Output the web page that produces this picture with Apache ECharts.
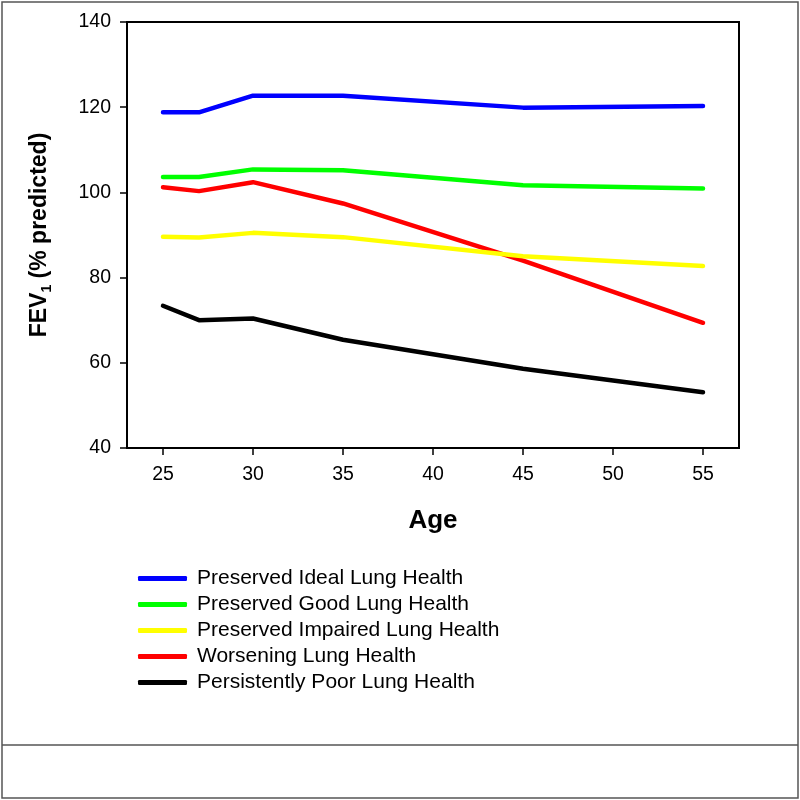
<!DOCTYPE html>
<html><head><meta charset="utf-8">
<script src="https://cdn.jsdelivr.net/npm/echarts@6/dist/echarts.min.js"></script>
<style>html,body{margin:0;padding:0;background:#fff}#c{width:800px;height:800px}</style>
</head><body><div id="c"></div>
<script>
const ages = [25, 27, 30, 35, 45, 55];
const xTicks = [25, 30, 35, 40, 45, 50, 55];
const seriesNames = ['Preserved Ideal Lung Health','Preserved Good Lung Health','Preserved Impaired Lung Health','Worsening Lung Health','Persistently Poor Lung Health'];
const idealVals = [118.8, 118.8, 122.7, 122.7, 119.9, 120.3];
const goodVals = [103.6, 103.6, 105.4, 105.2, 101.7, 100.9];
const impairedVals = [89.6, 89.4, 90.5, 89.5, 85.0, 82.7];
const worseningVals = [101.2, 100.3, 102.4, 97.4, 84.0, 69.4];
const poorVals = [73.4, 70.0, 70.4, 65.4, 58.6, 53.1];
const colors = ['#0000ff','#00ff00','#ffff00','#ff0000','#000000'];
const allVals = [idealVals, goodVals, impairedVals, worseningVals, poorVals];
const FONT = '"Liberation Sans", Arial, sans-serif';

const chart = echarts.init(document.getElementById('c'), null, {renderer:'canvas'});
chart.setOption({
  animation: false,
  backgroundColor: '#fff',
  grid: {left:127, right:61, top:22, bottom:352, show:true, borderColor:'#000', borderWidth:2, backgroundColor:'transparent'},
  xAxis: {
    type:'value', min:23, max:57,
    name:'Age', nameLocation:'middle', nameGap:60,
    nameTextStyle:{fontFamily:FONT, fontSize:26, fontWeight:'bold', color:'#000'},
    axisLine:{lineStyle:{color:'#000', width:2}},
    axisTick:{show:true, length:7, lineStyle:{color:'#000', width:1.5}, customValues: xTicks},
    axisLabel:{fontFamily:FONT, fontSize:19.5, color:'#000', margin:17, customValues: xTicks},
    splitLine:{show:false}
  },
  yAxis: {
    type:'value', min:40, max:140, interval:20,
    name:'{a|FEV}{s|1}{a| (% predicted)}', nameLocation:'middle', nameGap:73, nameRotate:90,
    nameTextStyle:{rich:{
      a:{fontFamily:FONT, fontSize:23, fontWeight:'bold', color:'#000', lineHeight:28, verticalAlign:'middle'},
      s:{fontFamily:FONT, fontSize:14, fontWeight:'bold', color:'#000', lineHeight:28, verticalAlign:'bottom'}
    }},
    axisLine:{show:true, lineStyle:{color:'#000', width:2}},
    axisTick:{show:true, length:7, lineStyle:{color:'#000', width:1.5}},
    axisLabel:{fontFamily:FONT, fontSize:19.5, color:'#000', margin:16},
    splitLine:{show:false}
  },
  legend: {
    orient:'vertical', left:133, top:563,
    icon:'roundRect',
    itemWidth:49, itemHeight:5, itemGap:5,
    textStyle:{fontFamily:FONT, fontSize:21, color:'#000', padding:[0,0,0,5]},
    data: seriesNames
  },
  series: seriesNames.map((n,i)=>({
    name:n, type:'line', symbol:'none',
    data: ages.map((a,j)=>[a, allVals[i][j]]),
    lineStyle:{color:colors[i], width:4.5, cap:'round', join:'round'},
    itemStyle:{color:colors[i]},
    z: 10 - i
  })),
  graphic: [
    {type:'rect', shape:{x:2, y:2, width:796, height:796}, style:{fill:'none', stroke:'#555', lineWidth:1.5}, silent:true},
    {type:'line', shape:{x1:2, y1:745, x2:798, y2:745}, style:{stroke:'#555', lineWidth:1.5}, silent:true}
  ]
});
</script></body></html>
